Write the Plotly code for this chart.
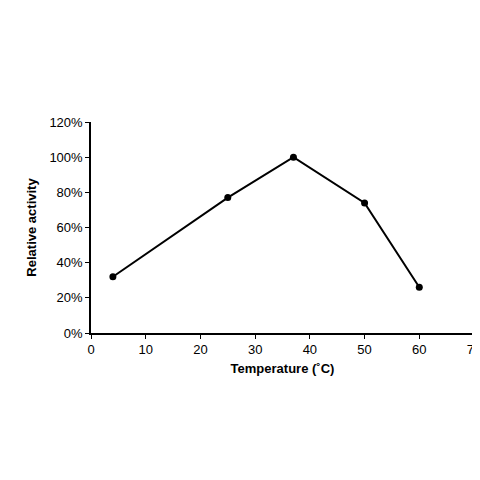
import plotly.graph_objects as go

temps = [4, 25, 37, 50, 60]
activity = [0.32, 0.77, 1.00, 0.74, 0.26]
x_ticks = [0, 10, 20, 30, 40, 50, 60, 70]
y_ticks = [0, 0.2, 0.4, 0.6, 0.8, 1.0, 1.2]

fig = go.Figure(go.Scatter(x=temps, y=activity, mode="lines+markers",
    line=dict(color="black", width=2), marker=dict(color="black", size=7)))

L, R, T, B = 83, 14, 114, 155
fig.update_layout(width=480, height=480, plot_bgcolor="white", paper_bgcolor="white",
    margin=dict(l=L, r=R, t=T, b=B, autoexpand=False), showlegend=False,
    font=dict(family="Arial", size=13, color="black"))
fig.update_xaxes(range=[0, 70], tickvals=x_ticks, showgrid=False, showline=True, linecolor="black",
    linewidth=1.5, ticks="outside", ticklen=4, tickcolor="black", zeroline=False, automargin=False,
    title=dict(text="<b>Temperature (˚C)</b>", font=dict(size=13), standoff=8))
fig.update_yaxes(range=[0, 1.2], tickvals=y_ticks, tickformat=".0%", showgrid=False, showline=True,
    linecolor="black", linewidth=1.5, ticks="outside", ticklen=4, tickcolor="black", zeroline=False,
    automargin=False, title=dict(text="<b>Relative activity</b>", font=dict(size=13), standoff=10))
fig.write_html("out.html")
